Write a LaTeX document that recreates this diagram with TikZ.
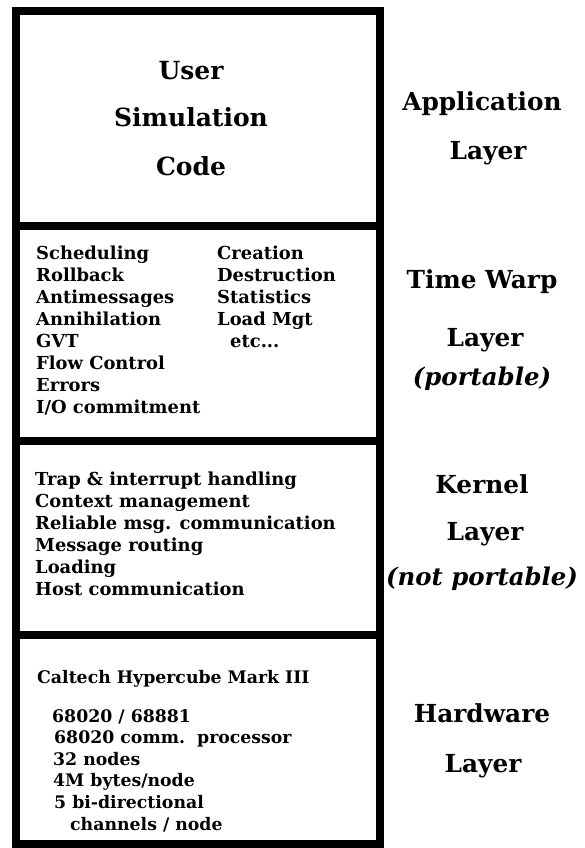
\documentclass[tikz,border=0pt]{standalone}
\usepackage{fontspec}
\setmainfont{DejaVu Serif}
\begin{document}
\begin{tikzpicture}[x=1pt,y=-1pt,
  frame/.style={line width=8pt, line join=miter},
  lst/.style={anchor=base west, inner sep=0pt, font=\bfseries\fontsize{17.9}{20}\selectfont},
  hw/.style={anchor=base west, inner sep=0pt, font=\bfseries\fontsize{17.3}{20}\selectfont},
  big/.style={anchor=base, inner sep=0pt, font=\bfseries\fontsize{25}{30}\selectfont},
  side/.style={anchor=base, inner sep=0pt, font=\bfseries\fontsize{24.8}{30}\selectfont},
  sideit/.style={anchor=base, inner sep=0pt, font=\bfseries\itshape\fontsize{24.4}{30}\selectfont}]
\useasboundingbox (0,0) rectangle (585,848);
% frame
\draw[frame] (16,11) rectangle (380,844);
\coordinate (d1l) at (16,226); \coordinate (d1r) at (380,226);
\coordinate (d2l) at (16,441); \coordinate (d2r) at (380,441);
\coordinate (d3l) at (16,635); \coordinate (d3r) at (380,635);
\draw[frame] (d1l) -- (d1r);
\draw[frame] (d2l) -- (d2r);
\draw[frame] (d3l) -- (d3r);
% application
\node[big] (u1) at (191,80) {User};
\node[big] (u2) at (191,127) {Simulation};
\node[big] (u3) at (191,175) {Code};
% time warp left
\foreach \t [count=\i] in {Scheduling,Rollback,Antimessages,Annihilation,GVT,Flow Control,Errors,I/O commitment}
  \node[lst] (tw\i) at (36,{259+22*(\i-1)}) {\t};
\foreach \t [count=\i] in {Creation,Destruction,Statistics,Load Mgt}
  \node[lst] (tr\i) at (217,{259+22*(\i-1)}) {\t};
\node[lst] (tr5) at (230,347) {etc...};
% kernel
\foreach \t [count=\i] in {Trap \& interrupt handling,Context management,Reliable msg. communication,Message routing,Loading,Host communication}
  \node[lst] (k\i) at (35,{485+22*(\i-1)}) {\t};
% hardware
\node[hw] (h0) at (37,683) {Caltech Hypercube Mark III};
\node[hw] (h1) at (52,722) {68020 / 68881};
\node[hw] (h2) at (54,743.6) {68020 comm.\ \ processor};
\node[hw] (h3) at (53,765.2) {32 nodes};
\node[hw] (h4) at (53,786.8) {4M bytes/node};
\node[hw] (h5) at (54,808.4) {5 bi-directional};
\node[hw] (h6) at (70,830) {channels / node};
% side labels
\node[side] (s1) at (482,111) {Application};
\node[side] (s2) at (488,159) {Layer};
\node[side] (s3) at (482,288) {Time Warp};
\node[side] (s4) at (485,346) {Layer};
\node[sideit] (s5) at (482,385) {(portable)};
\node[side] (s6) at (482,493) {Kernel};
\node[side] (s7) at (485,540) {Layer};
\node[sideit] (s8) at (482,585) {(not portable)};
\node[side] (s9) at (482,722) {Hardware};
\node[side] (s10) at (483,772) {Layer};
\end{tikzpicture}
\end{document}
